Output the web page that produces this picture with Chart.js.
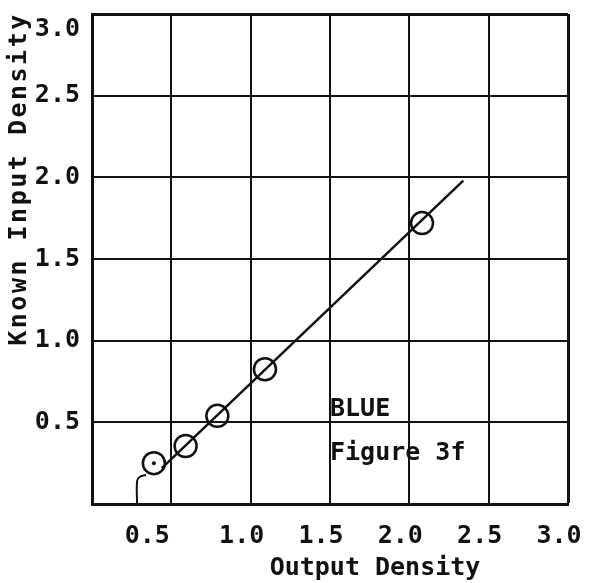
<!DOCTYPE html>
<html lang="en">
<head>
    <meta charset="UTF-8">
    <title>Figure 3f - Blue</title>
    <script src="https://cdn.jsdelivr.net/npm/chart.js"></script>
    <style>
        html, body { margin: 0; padding: 0; background: #fff; }
        .chart-container { position: relative; width: 589px; height: 583px; }
    </style>
</head>
<body>
    <div class="chart-container">
        <canvas id="densityChart"></canvas>
    </div>

    <script>
        // Measured points (circles)
        const outputDensity = [0.39, 0.59, 0.79, 1.09, 2.08];
        const inputDensity = [0.25, 0.355, 0.54, 0.825, 1.72];

        // Fitted straight line
        const fitX = [0.44, 2.34];
        const fitY = [0.22, 1.98];

        // Hook at the foot of the curve
        const toeX = [0.284, 0.284, 0.30, 0.34];
        const toeY = [0, 0.14, 0.165, 0.178];

        // Tick values shown on both axes
        const tickValues = [0.5, 1.0, 1.5, 2.0, 2.5, 3.0];

        const xTitle = 'Output Density';
        const yTitle = 'Known Input Density';
        const notes = ['BLUE', 'Figure 3f'];
        const noteX = [1.5, 1.5];
        const noteY = [0.54, 0.27];

        const ink = '#111';
        const monoFont = "'DejaVu Sans Mono', monospace";

        const toPoints = (xs, ys) => xs.map((x, i) => ({ x: x, y: ys[i] }));

        // Axis titles and the figure notes, placed like the typed originals
        const textPlugin = {
            id: 'typedText',
            afterDraw(chart) {
                const ctx = chart.ctx;
                const xs = chart.scales.x;
                const ys = chart.scales.y;
                ctx.save();
                ctx.fillStyle = ink;
                ctx.font = 'bold 25px ' + monoFont;

                // notes inside the plot
                ctx.textAlign = 'left';
                ctx.textBaseline = 'alphabetic';
                notes.forEach((t, i) => {
                    ctx.fillText(t, xs.getPixelForValue(noteX[i]), ys.getPixelForValue(noteY[i]));
                });

                // x title
                ctx.textAlign = 'center';
                ctx.textBaseline = 'middle';
                ctx.fillText(xTitle, 375, 568);

                // y title, rotated
                ctx.translate(19, 179);
                ctx.rotate(-Math.PI / 2);
                ctx.letterSpacing = '2.5px';
                ctx.fillText(yTitle, 0, 0);
                ctx.restore();
            }
        };

        const gridWidth = (c) => (c.tick && c.tick.value === 3 ? 3 : 2);

        // the typed labels sit a little off their grid lines in the original
        const xLabel = (v) => {
            if (v === 0) return '';
            return v === 0.5 ? v.toFixed(1) + '  ' : v.toFixed(1);
        };
        const yLabel = (v) => {
            if (v === 0) return '';
            return v === 3 ? ['', v.toFixed(1)] : v.toFixed(1);
        };

        new Chart(document.getElementById('densityChart'), {
            type: 'scatter',
            data: {
                datasets: [
                    {
                        label: 'Measured',
                        data: toPoints(outputDensity, inputDensity),
                        showLine: false,
                        pointStyle: 'circle',
                        pointRadius: 11,
                        pointBorderWidth: 2.5,
                        pointBorderColor: ink,
                        pointBackgroundColor: 'rgba(0,0,0,0)'
                    },
                    {
                        label: 'Centre mark',
                        data: toPoints(outputDensity.slice(0, 1), inputDensity.slice(0, 1)),
                        showLine: false,
                        pointRadius: 2,
                        pointBorderWidth: 0,
                        pointBackgroundColor: ink
                    },
                    {
                        label: 'Fit',
                        data: toPoints(fitX, fitY),
                        showLine: true,
                        borderColor: ink,
                        borderWidth: 2.5,
                        pointRadius: 0
                    },
                    {
                        label: 'Toe',
                        data: toPoints(toeX, toeY),
                        showLine: true,
                        borderColor: ink,
                        borderWidth: 2,
                        tension: 0.4,
                        pointRadius: 0
                    }
                ]
            },
            options: {
                responsive: true,
                maintainAspectRatio: false,
                animation: false,
                layout: { padding: { top: 14, right: 21, left: 0, bottom: 0 } },
                scales: {
                    x: {
                        type: 'linear',
                        min: 0,
                        max: 3,
                        afterBuildTicks: (scale) => {
                            scale.ticks = [{ value: 0 }].concat(tickValues.map(v => ({ value: v })));
                        },
                        afterFit: (scale) => {
                            scale.height = 79;
                            scale.paddingLeft = 0;
                            scale.paddingRight = 0;
                        },
                        ticks: {
                            color: ink,
                            padding: 17,
                            labelOffset: -9,
                            maxRotation: 0,
                            autoSkip: false,
                            font: { family: monoFont, size: 25, weight: 'bold' },
                            callback: xLabel
                        },
                        grid: { color: ink, lineWidth: gridWidth, drawTicks: false },
                        border: { color: ink, width: 3 }
                    },
                    y: {
                        type: 'linear',
                        min: 0,
                        max: 3,
                        afterBuildTicks: (scale) => {
                            scale.ticks = [{ value: 0 }].concat(tickValues.map(v => ({ value: v })));
                        },
                        afterFit: (scale) => {
                            scale.width = 92;
                            scale.paddingTop = 0;
                            scale.paddingBottom = 0;
                        },
                        ticks: {
                            color: ink,
                            padding: 12,
                            autoSkip: false,
                            font: { family: monoFont, size: 25, weight: 'bold' },
                            callback: yLabel
                        },
                        grid: { color: ink, lineWidth: gridWidth, drawTicks: false },
                        border: { color: ink, width: 3 }
                    }
                },
                plugins: {
                    legend: { display: false },
                    tooltip: { enabled: false }
                }
            },
            plugins: [textPlugin]
        });
    </script>
</body>
</html>
